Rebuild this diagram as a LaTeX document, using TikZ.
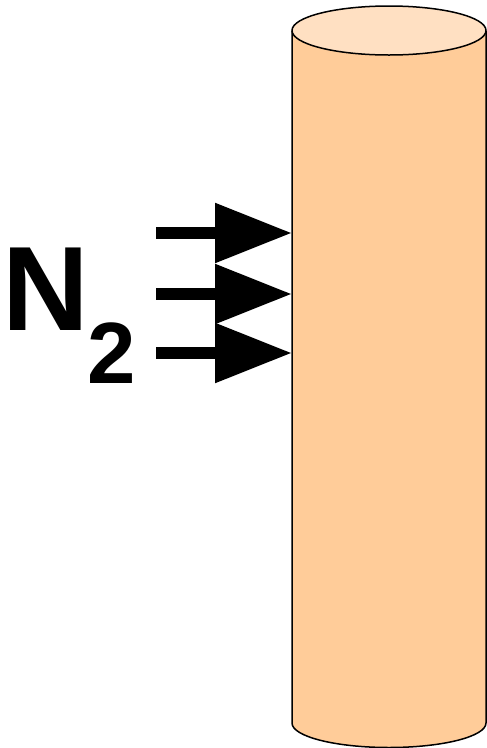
\documentclass[tikz,border=0pt]{standalone}
\usepackage{fontspec}
\setmainfont{Liberation Sans}
\usetikzlibrary{arrows.meta}
\definecolor{body}{RGB}{255,204,153}
\definecolor{lid}{RGB}{255,224,194}
\begin{document}
\begin{tikzpicture}[x=1pt, y=-1pt, line join=round, >={Triangle[length=77pt, width=57pt]}]
	\def\cx{389}
	\def\rx{97}
	\def\ry{24.5}
	\def\ytop{30.5}
	\def\ybot{723}
	\useasboundingbox (0,0) rectangle (487,748);
	% column
	\fill[body] (\cx-\rx, \ytop) -- (\cx-\rx, \ybot)
	arc[start angle=180, end angle=0, x radius=\rx, y radius=\ry] -- (\cx+\rx, \ytop) -- cycle;
	\draw[line width=1.5pt] (\cx-\rx, \ytop) -- (\cx-\rx, \ybot)
	arc[start angle=180, end angle=0, x radius=\rx, y radius=\ry] -- (\cx+\rx, \ytop);
	\filldraw[lid, draw=black, line width=1.5pt] (\cx, \ytop) ellipse[x radius=\rx, y radius=\ry];
	% gas
	\node[anchor=base west, inner sep=0pt, font=\fontsize{120}{120}\selectfont\bfseries] (gas) at (2, 330) {N};
	\node[anchor=base west, inner sep=0pt, font=\fontsize{87}{87}\selectfont\bfseries] (idx) at (87, 383) {2};
	\foreach \y [count=\i] in {233, 294, 353} {
		\coordinate (src\i) at (156, \y);
		\coordinate (in\i) at (\cx-\rx, \y);
		\draw[->, line width=12pt] (src\i) -- (in\i);
	}
\end{tikzpicture}
\end{document}
